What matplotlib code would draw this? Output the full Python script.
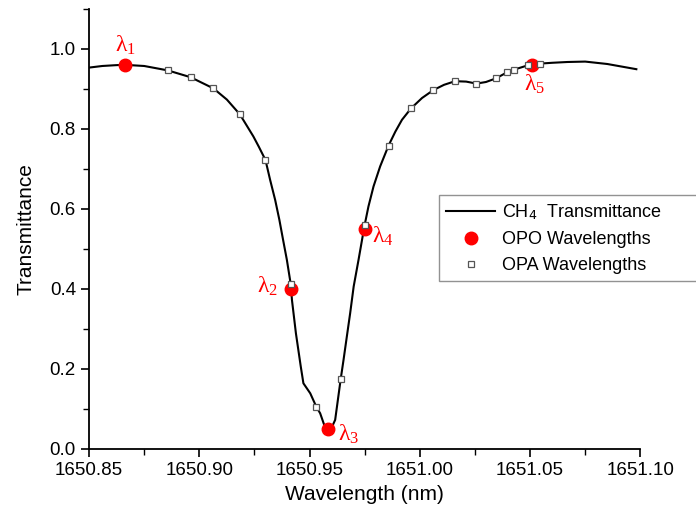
import matplotlib.pyplot as plt
from matplotlib.ticker import MultipleLocator

plt.rcParams['font.family'] = ['Liberation Sans', 'DejaVu Sans']
plt.rcParams['mathtext.fontset'] = 'custom'
plt.rcParams['mathtext.rm'] = 'Liberation Serif'
plt.rcParams['mathtext.it'] = 'Liberation Serif'

# CH4 transmittance curve
wl = [1650.850, 1650.856, 1650.862, 1650.866, 1650.875, 1650.8857, 1650.896,
      1650.9064, 1650.9125, 1650.9184, 1650.9245, 1650.927, 1650.930, 1650.9321,
      1650.9344, 1650.9363, 1650.938, 1650.9397, 1650.9415, 1650.942, 1650.9438,
      1650.946, 1650.9472, 1650.9503, 1650.953, 1650.9548, 1650.9565, 1650.9583,
      1650.960, 1650.9616, 1650.9641, 1650.9654, 1650.9669, 1650.9684, 1650.970,
      1650.9722, 1650.9749, 1650.9767, 1650.979, 1650.982, 1650.9858, 1650.9889,
      1650.9919, 1650.996, 1651.001, 1651.0062, 1651.011, 1651.016, 1651.021,
      1651.0257, 1651.030, 1651.0345, 1651.0395, 1651.0425, 1651.0492, 1651.0546,
      1651.060, 1651.067, 1651.075, 1651.085, 1651.0982]
trans = [0.953, 0.957, 0.959, 0.960, 0.957, 0.946, 0.929,
         0.901, 0.873, 0.836, 0.781, 0.755, 0.722, 0.6725,
         0.622, 0.5725, 0.522, 0.4725, 0.410, 0.3725, 0.289,
         0.206, 0.164, 0.139, 0.106, 0.089, 0.062, 0.048,
         0.053, 0.0725, 0.174, 0.2225, 0.281, 0.339, 0.406,
         0.4725, 0.5575, 0.606, 0.656, 0.706, 0.758, 0.793,
         0.8225, 0.851, 0.877, 0.897, 0.910, 0.919, 0.918,
         0.913, 0.917, 0.926, 0.941, 0.9475, 0.959, 0.963,
         0.965, 0.967, 0.968, 0.962, 0.949]

# OPO wavelengths (red dots)
opo_wl = [1650.8663, 1650.9415, 1650.9583, 1650.975, 1651.0508]
opo_t = [0.960, 0.400, 0.050, 0.549, 0.959]
opo_names = [r'$\lambda_1$', r'$\lambda_2$', r'$\lambda_3$', r'$\lambda_4$', r'$\lambda_5$']

# OPA wavelengths (open squares)
opa_wl = [1650.8857, 1650.896, 1650.9064, 1650.9184, 1650.930, 1650.9415,
          1650.953, 1650.9641, 1650.975, 1650.9858, 1650.996, 1651.0062,
          1651.016, 1651.0257, 1651.0345, 1651.0395, 1651.0425, 1651.0492,
          1651.0546]
opa_t = [0.946, 0.929, 0.901, 0.836, 0.722, 0.4125,
         0.106, 0.174, 0.559, 0.756, 0.851, 0.897,
         0.919, 0.913, 0.926, 0.941, 0.9475, 0.959,
         0.963]

fig = plt.figure(figsize=(6.96, 5.16), dpi=100)
ax = fig.add_axes([0.128, 0.13, 0.792, 0.853])

ax.plot(wl, trans, color='black', lw=1.5, label=r'CH$_\mathsf{4}$  Transmittance', zorder=2)
ax.plot(opo_wl, opo_t, 'o', color='red', ms=9, label='OPO Wavelengths', zorder=3)
ax.plot(opa_wl, opa_t, 's', mfc='white', mec='#555555', mew=0.9, ms=5,
        label='OPA Wavelengths', zorder=4)

# lambda labels next to the red points (offsets in points)
offsets = [(0, 14), (-17, 2), (15, -4), (13, -5), (2, -14)]
for x, y, s, off in zip(opo_wl, opo_t, opo_names, offsets):
    ax.annotate(s, (x, y), xytext=off, textcoords='offset points',
                ha='center', va='center', color='red', fontsize=17)

ax.set_xlim(1650.85, 1651.10)
ax.set_ylim(0, 1.1)
ax.xaxis.set_major_locator(MultipleLocator(0.05))
ax.xaxis.set_minor_locator(MultipleLocator(0.025))
ax.yaxis.set_major_locator(MultipleLocator(0.2))
ax.yaxis.set_minor_locator(MultipleLocator(0.1))
ax.xaxis.set_major_formatter(plt.FuncFormatter(lambda v, p: f'{v:.2f}'))
ax.yaxis.set_major_formatter(plt.FuncFormatter(lambda v, p: f'{v:.1f}'))
ax.tick_params(which='major', direction='out', length=6, width=1.2, labelsize=13.5)
ax.tick_params(which='minor', direction='out', length=4, width=1.0)
for side in ['top', 'right']:
    ax.spines[side].set_visible(False)
for side in ['left', 'bottom']:
    ax.spines[side].set_linewidth(1.3)

ax.set_xlabel('Wavelength (nm)', fontsize=15, labelpad=4)
ax.set_ylabel('Transmittance', fontsize=15, labelpad=10)

# legend box runs off the right edge of the figure, as in the original
fig.legend(loc='upper left', bbox_to_anchor=(439 / 696, 1 - 283 / 516, 0.4, 88 / 516),
           mode='expand', fontsize=13, frameon=True, fancybox=False, edgecolor='#777777',
           handlelength=2.7, labelspacing=0.5, borderpad=0.4, handletextpad=0.4,
           borderaxespad=0)

fig.savefig('out.png', dpi=100)
